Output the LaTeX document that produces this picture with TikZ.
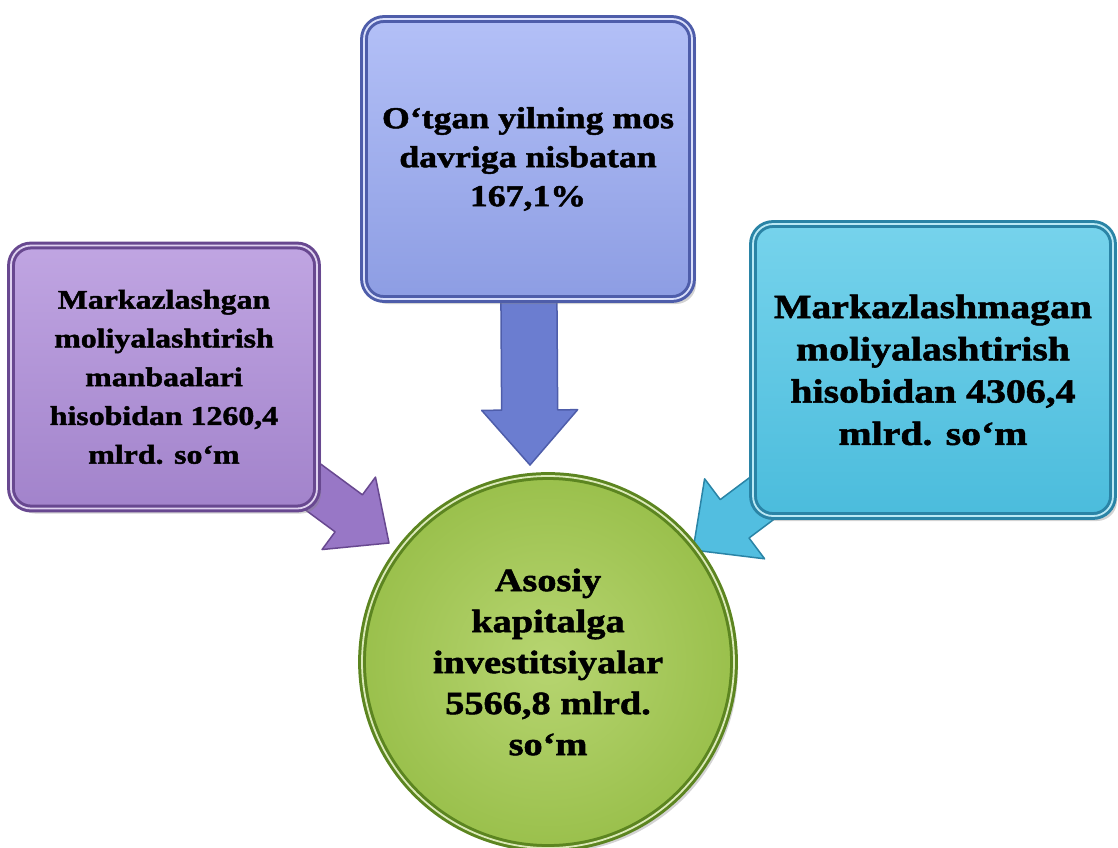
\documentclass[tikz,border=0pt]{standalone}
\usepackage{fontspec}
\setmainfont{Liberation Serif}[FakeStretch=1.18, BoldFeatures={FakeBold=1.6}]
\usetikzlibrary{calc, shadows, backgrounds}
\definecolor{cBlue}{HTML}{8D9DE3}
\definecolor{cBlueLt}{HTML}{B3C0F7}
\definecolor{cBlueDk}{HTML}{4E5DAA}
\definecolor{cBlueArw}{HTML}{6B7DD0}
\definecolor{cViolet}{HTML}{A283CB}
\definecolor{cVioletLt}{HTML}{C0A5E2}
\definecolor{cVioletDk}{HTML}{684890}
\definecolor{cVioletArw}{HTML}{9877C6}
\definecolor{cCyan}{HTML}{4BBCDC}
\definecolor{cCyanLt}{HTML}{76D3EC}
\definecolor{cCyanDk}{HTML}{2A84A6}
\definecolor{cCyanArw}{HTML}{52BEE0}
\definecolor{cLime}{HTML}{9AC04C}
\definecolor{cLimeLt}{HTML}{B7D571}
\definecolor{cLimeDk}{HTML}{5C8520}
\tikzset{
  card/.style={
    rectangle, rounded corners=20pt, draw=#1Dk, line width=3pt,
    double=#1Lt!50!white, double distance=1.8pt,
    top color=#1Lt, bottom color=#1, align=center,
    drop shadow={shadow xshift=4pt, shadow yshift=-5pt, opacity=0.35}
  },
  ball/.style={
    circle, draw=cLimeDk, line width=3pt, double=cLimeLt!50!white,
    double distance=1.8pt, inner sep=0pt,
    inner color=cLimeLt, outer color=cLime, align=center,
    drop shadow={shadow xshift=4pt, shadow yshift=-5pt, opacity=0.35}
  },
  fatarrow/.style={fill=#1Arw, draw=#1Dk, line width=1.5pt, line join=round},
  txt/.style n args={2}{font=\fontsize{#1}{#2}\selectfont\bfseries},
}
% block arrow: style, from, to, half shaft, half head, head length
\newcommand{\blockarrow}[6]{%
  \draw[#1] ($(#2)!#4!90:(#3)$)
    -- ($(#3)!#6!(#2)!#4!-90:(#2)$)
    -- ($(#3)!#6!(#2)!#5!-90:(#2)$)
    -- (#3)
    -- ($(#3)!#6!(#2)!#5!90:(#2)$)
    -- ($(#3)!#6!(#2)!#4!90:(#2)$)
    -- ($(#2)!#4!-90:(#3)$) -- cycle;}
\begin{document}
\begin{tikzpicture}[x=1pt, y=-1pt]
  \useasboundingbox (0,0) rectangle (1118,847);

  \node[ball, minimum size=372pt, txt={32.5}{41}] (invest) at (548,662)
    {Asosiy\\kapitalga\\investitsiyalar\\5566,8 mlrd.\\so‘m};

  \node[card=cBlue, minimum width=328pt, minimum height=280pt,
        txt={30.3}{39}] (davr) at (528,159)
    {O‘tgan yilning mos\\davriga nisbatan\\167,1\%};

  \node[card=cViolet, minimum width=306pt, minimum height=263pt,
        txt={27}{38.75}] (mark) at (164,377)
    {Markazlashgan\\moliyalashtirish\\manbaalari\\hisobidan 1260,4\\mlrd. so‘m};

  \node[card=cCyan, minimum width=360pt, minimum height=292pt,
        txt={33.7}{42.3}] (nomark) at (933,370)
    {Markazlashmagan\\moliyalashtirish\\hisobidan 4306,4\\mlrd. so‘m};

  \coordinate (tipT) at (530,465);
  \coordinate (tipL) at (389,543);
  \coordinate (tipR) at (693,550);

  \begin{scope}[on background layer]
    \blockarrow{fatarrow=cBlue}{davr.center}{tipT}{28pt}{48pt}{55pt}
    \blockarrow{fatarrow=cViolet}{mark.center}{tipL}{23pt}{45pt}{50pt}
    \blockarrow{fatarrow=cCyan}{nomark.center}{tipR}{24pt}{50pt}{52pt}
  \end{scope}

\end{tikzpicture}
\end{document}
